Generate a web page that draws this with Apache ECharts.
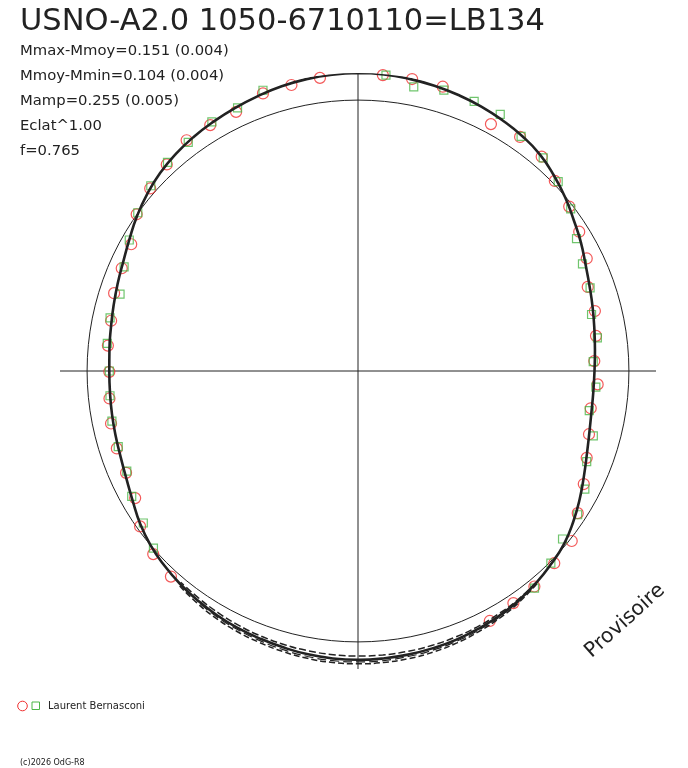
<!DOCTYPE html>
<html>
<head>
<meta charset="utf-8">
<script src="https://cdn.jsdelivr.net/npm/echarts@6/dist/echarts.min.js"></script>
<style>html,body{margin:0;padding:0;background:#fff}#c{width:688px;height:768px}</style>
</head>
<body>
<div id="c"></div>
<script>
// Polar light curve: angle = phase (degrees, clockwise from top), radius = relative brightness (mean = 1)
var titleText = 'USNO-A2.0 1050-6710110=LB134';
var statLines = ['Mmax-Mmoy=0.151 (0.004)', 'Mmoy-Mmin=0.104 (0.004)', 'Mamp=0.255 (0.005)', 'Eclat^1.00', 'f=0.765'];
var observerName = 'Laurent Bernasconi';
var copyrightText = '(c)2026 OdG-R8';
var watermarkText = 'Provisoire';

// circles: [angleDeg, relBrightness]
var circleObs = [
  [359.0,1.108],[4.8,1.096],[10.5,1.096],[16.6,1.095],[28.3,1.035],[34.7,1.051],[40.6,1.042],[46.0,1.010],
  [52.1,0.988],[57.8,0.965],[63.8,0.941],[69.9,0.903],[75.8,0.902],[81.6,0.888],[87.6,0.873],[93.2,0.886],
  [99.1,0.870],[105.3,0.884],[110.8,0.903],[116.6,0.932],[122.9,0.966],[128.5,1.008],[134.4,1.014],[140.7,1.028],
  [146.2,1.031],[152.2,1.043],[222.3,1.026],[228.2,1.014],[234.5,0.988],[240.3,0.947],[246.3,0.935],[252.2,0.935],
  [258.0,0.932],[263.7,0.923],[269.8,0.918],[275.8,0.928],[281.5,0.930],[287.7,0.945],[293.5,0.951],[299.2,0.959],
  [305.3,1.001],[311.3,1.021],[317.2,1.039],[323.4,1.061],[329.0,1.059],[334.8,1.057],[341.1,1.083],[346.9,1.084],
  [352.6,1.091]
];
// squares: [angleDeg, relBrightness]
var squareObs = [
  [359.2,1.111],[5.4,1.097],[11.1,1.069],[17.0,1.084],[23.3,1.084],[29.0,1.083],[34.8,1.055],[41.0,1.042],
  [46.6,1.017],[52.7,0.987],[58.8,0.943],[64.5,0.918],[70.3,0.910],[76.4,0.887],[82.1,0.892],[87.7,0.869],
  [93.9,0.880],[99.7,0.866],[105.4,0.901],[111.6,0.908],[117.5,0.944],[123.2,0.969],[129.4,0.977],[134.9,1.005],
  [140.9,1.033],[229.1,0.999],[234.7,0.971],[241.0,0.955],[246.6,0.930],[252.5,0.928],[258.5,0.927],[264.3,0.920],
  [270.0,0.918],[276.3,0.931],[282.1,0.936],[287.9,0.923],[294.0,0.945],[299.8,0.973],[305.7,1.001],[311.8,1.026],
  [317.6,1.043],[323.4,1.051],[329.6,1.066],[335.4,1.068],[341.3,1.094],[353.3,1.116]
];
// fitted curve
var fitCurve = [
  [0,1.100],[5,1.099],[10,1.095],[15,1.090],[20,1.084],[25,1.077],[30,1.068],[35,1.058],[40,1.044],[45,1.022],
  [50,0.998],[55,0.972],[60,0.950],[65,0.927],[70,0.910],[75,0.897],[80,0.886],[85,0.878],[90,0.873],[95,0.872],
  [100,0.875],[105,0.884],[110,0.899],[115,0.920],[120,0.945],[125,0.970],[130,0.993],[135,1.008],[140,1.022],[145,1.034],
  [150,1.043],[155,1.050],[160,1.056],[165,1.060],[170,1.063],[175,1.065],[180,1.066],[185,1.065],[190,1.062],[195,1.057],
  [200,1.052],[205,1.047],[210,1.041],[215,1.033],[220,1.024],[225,1.013],[230,1.000],[235,0.982],[240,0.960],[245,0.943],
  [250,0.932],[255,0.926],[260,0.922],[265,0.919],[270,0.918],[275,0.921],[280,0.926],[285,0.934],[290,0.944],[295,0.956],
  [300,0.974],[305,0.996],[310,1.016],[315,1.033],[320,1.046],[325,1.056],[330,1.064],[335,1.072],[340,1.080],[345,1.088],
  [350,1.094],[355,1.098],[360,1.100]
];
var fitInner = [
  [140,1.020],[145,1.030],[150,1.036],[155,1.042],[160,1.046],[165,1.049],[170,1.051],[175,1.052],[180,1.052],[185,1.051],
  [190,1.049],[195,1.046],[200,1.042],[205,1.037],[210,1.031],[215,1.024],[220,1.018]
];
var fitOuter = [
  [140,1.026],[145,1.040],[150,1.051],[155,1.060],[160,1.068],[165,1.074],[170,1.078],[175,1.080],[180,1.081],[185,1.080],
  [190,1.077],[195,1.072],[200,1.066],[205,1.060],[210,1.052],[215,1.042],[220,1.030]
];
var fitMid = [
  [145,1.037],[150,1.047],[155,1.055],[160,1.062],[165,1.067],[170,1.070],[175,1.073],[180,1.074],[185,1.073],
  [190,1.070],[195,1.065],[200,1.059],[205,1.053],[210,1.046],[215,1.037]
];
var meanLevel = 1;

function toPolar(arr){ return arr.map(function(d){ return [d[1], d[0]]; }); }

var chart = echarts.init(document.getElementById('c'), null, {renderer:'canvas'});
var FONT = 'DejaVu Sans';
var INK = '#222';
var RED = '#f03030';
var GREEN = '#4cb648';

var graphics = [
  {type:'text', left:20, top:7, style:{text:titleText, font:'30.5px "'+FONT+'"', fill:INK}},
  {type:'text', x:625, y:621, rotation:42*Math.PI/180, style:{text:watermarkText, font:'20.5px "'+FONT+'"', fill:INK, textAlign:'center', textVerticalAlign:'middle'}},
  {type:'circle', shape:{cx:22.5, cy:706, r:4.8}, style:{fill:'none', stroke:RED, lineWidth:1}},
  {type:'rect', shape:{x:32, y:702, width:7.5, height:7.5}, style:{fill:'none', stroke:GREEN, lineWidth:1}},
  {type:'text', x:48, y:706, style:{text:observerName, font:'10px "'+FONT+'"', fill:INK, textVerticalAlign:'middle'}},
  {type:'text', x:20, y:763, style:{text:copyrightText, font:'8px "'+FONT+'"', fill:INK, textVerticalAlign:'middle'}}
];
statLines.forEach(function(t,i){
  graphics.push({type:'text', x:20, y:51.5 + i*24.8, style:{text:t, font:'14.8px "'+FONT+'"', fill:INK, textVerticalAlign:'middle'}});
});

chart.setOption({
  animation:false,
  backgroundColor:'#fff',
  polar:{center:[358,371], radius:298},
  angleAxis:{type:'value', min:0, max:360, interval:90, startAngle:90, clockwise:true,
    axisLine:{show:false}, axisTick:{show:false}, axisLabel:{show:false},
    splitLine:{show:true, lineStyle:{color:INK, width:1}}},
  radiusAxis:{type:'value', min:0, max:1.1, interval:meanLevel,
    axisLine:{show:false}, axisTick:{show:false}, axisLabel:{show:false},
    splitLine:{show:true, lineStyle:{color:['rgba(0,0,0,0)', INK, 'rgba(0,0,0,0)'], width:1}}},
  graphic:graphics,
  series:[
    {type:'scatter', coordinateSystem:'polar', data:toPolar(circleObs), symbol:'circle', symbolSize:11,
      itemStyle:{color:'rgba(0,0,0,0)', borderColor:RED, borderWidth:1.2}, z:2, silent:true},
    {type:'scatter', coordinateSystem:'polar', data:toPolar(squareObs), symbol:'rect', symbolSize:8,
      itemStyle:{color:'rgba(0,0,0,0)', borderColor:GREEN, borderWidth:1.2}, z:3, silent:true},
    {type:'line', coordinateSystem:'polar', data:toPolar(fitInner), symbol:'none', smooth:true,
      lineStyle:{color:INK, width:1.5, type:[7,3]}, z:4, silent:true},
    {type:'line', coordinateSystem:'polar', data:toPolar(fitMid), symbol:'none', smooth:true,
      lineStyle:{color:INK, width:1.2, type:[9,4]}, z:4, silent:true},
    {type:'line', coordinateSystem:'polar', data:toPolar(fitOuter), symbol:'none', smooth:true,
      lineStyle:{color:INK, width:1.5, type:[6,3]}, z:4, silent:true},
    {type:'line', coordinateSystem:'polar', data:toPolar(fitCurve), symbol:'none', smooth:true,
      lineStyle:{color:INK, width:2.6}, z:5, silent:true}
  ]
});
</script>
</body>
</html>
